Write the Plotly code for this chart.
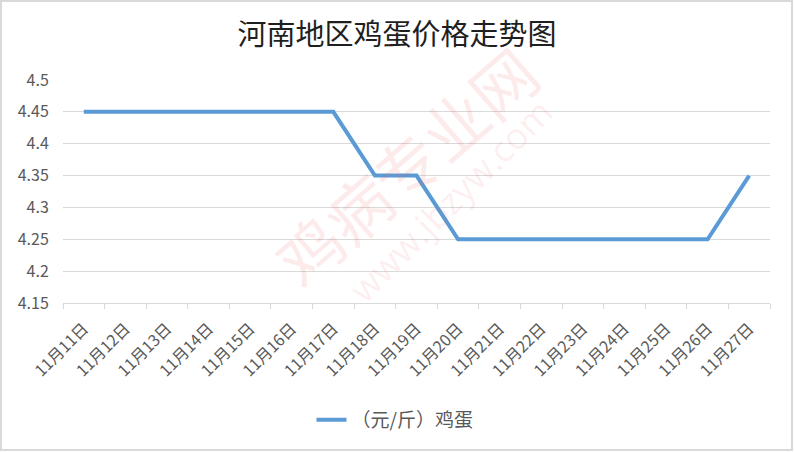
import plotly.graph_objects as go

dates = ["11月11日", "11月12日", "11月13日", "11月14日", "11月15日", "11月16日",
         "11月17日", "11月18日", "11月19日", "11月20日", "11月21日", "11月22日",
         "11月23日", "11月24日", "11月25日", "11月26日", "11月27日"]
prices = [4.45, 4.45, 4.45, 4.45, 4.45, 4.45, 4.45, 4.35, 4.35,
          4.25, 4.25, 4.25, 4.25, 4.25, 4.25, 4.25, 4.35]
series_name = "（元/斤）鸡蛋"
title_text = "河南地区鸡蛋价格走势图"
y_ticks = [4.15, 4.2, 4.25, 4.3, 4.35, 4.4, 4.45, 4.5]

W, H = 794, 452
ml, mr, mt, mb = 63, 24, 80, 149
pw, ph = W - ml - mr, H - mt - mb

fig = go.Figure()
fig.add_trace(go.Scatter(
    x=dates, y=prices, mode="lines", name=series_name,
    line=dict(color="#5B9BD5", width=4, shape="linear"),
))

font_fam = "Noto Sans CJK SC, Noto Sans, sans-serif"

fig.update_layout(
    width=W, height=H,
    margin=dict(l=ml, r=mr, t=mt, b=mb, pad=0, autoexpand=False),
    paper_bgcolor="white", plot_bgcolor="white",
    title=dict(text=title_text, x=0.5, xref="container", xanchor="center",
               y=1 - 35 / H, yanchor="middle",
               font=dict(family=font_fam, size=29, color="#1f1f1f")),
    font=dict(family=font_fam, color="#595959", size=12),
    showlegend=True,
    legend=dict(orientation="h", x=(395 - ml) / pw, xanchor="center",
                y=(ph - (420 - mt)) / ph, yanchor="middle",
                font=dict(size=19, color="#595959"), bgcolor="rgba(0,0,0,0)"),
    xaxis=dict(
        type="category", tickangle=-45, tickson="boundaries",
        ticks="outside", ticklen=5, tickcolor="#d9d9d9", tickwidth=1,
        showline=True, linecolor="#d9d9d9", linewidth=1,
        showgrid=False, range=[-0.5, len(dates) - 0.5],
        tickfont=dict(size=16, color="#595959"),
        ticklabelstandoff=9,
    ),
    yaxis=dict(
        range=[4.15, 4.5], tickvals=y_ticks,
        ticktext=[("%g" % v) for v in y_ticks],
        showgrid=True, gridcolor="#d9d9d9", gridwidth=1,
        zeroline=False, showline=False,
        ticks="outside", ticklen=10, tickcolor="rgba(0,0,0,0)",
        tickfont=dict(size=16, color="#595959"),
    ),
)

# faint watermark
fig.add_annotation(text="鸡病专业网", xref="paper", yref="paper",
                   x=(405 - ml) / pw, y=(ph - (165 - mt)) / ph,
                   showarrow=False, textangle=-41,
                   font=dict(size=64, color="rgba(235,90,90,0.12)", family=font_fam))
fig.add_annotation(text="www.jbzyw.com", xref="paper", yref="paper",
                   x=(450 - ml) / pw, y=(ph - (200 - mt)) / ph,
                   showarrow=False, textangle=-45,
                   font=dict(size=36, color="rgba(235,90,90,0.10)", family="Open Sans, sans-serif"))

# outer frame
fig.add_shape(type="rect", xref="paper", yref="paper",
              x0=-(ml - 1) / pw, x1=1 + (mr - 2) / pw,
              y0=-(mb - 2) / ph, y1=1 + (mt - 1) / ph,
              line=dict(color="#d9d9d9", width=2), layer="below")

fig.write_html("out.html", config={"displayModeBar": False},
               post_script="document.body.style.margin='0';")
